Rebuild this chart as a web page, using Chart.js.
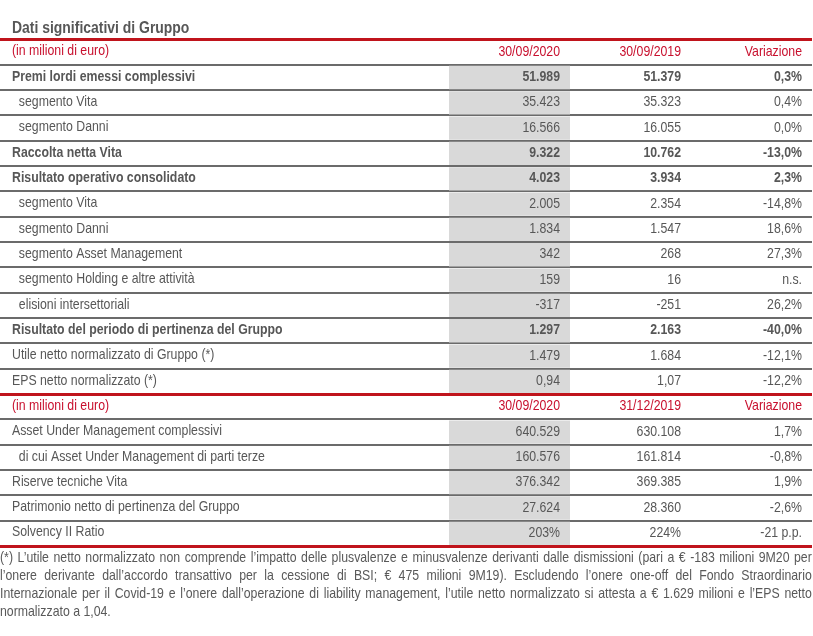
<!DOCTYPE html>
<html>
<head>
<meta charset="utf-8">
<script src="https://cdn.jsdelivr.net/npm/chart.js@4"></script>
<style>
  html, body { margin: 0; padding: 0; background: #ffffff; }
  #wrap { position: relative; width: 813px; height: 636px; overflow: hidden; }
  #note {
    position: absolute; left: 0; top: 548px; width: 990px;
    transform: scaleX(0.82); transform-origin: 0 0;
    font-family: 'Liberation Sans', Arial, sans-serif;
    font-size: 15px; line-height: 18px; color: #595959;
    text-align: justify; margin: 0;
  }
</style>
</head>
<body>
<div id="wrap">
  <canvas id="c"></canvas>
  <p id="note">(*) L’utile netto normalizzato non comprende l’impatto delle plusvalenze e minusvalenze derivanti dalle dismissioni (pari a € -183 milioni 9M20 per l’onere derivante dall’accordo transattivo per la cessione di BSI; € 475 milioni 9M19). Escludendo l’onere one-off del Fondo Straordinario Internazionale per il Covid-19 e l’onere dall’operazione di liability management, l’utile netto normalizzato si attesta a € 1.629 milioni e l’EPS netto normalizzato a 1,04.</p>
</div>
<script>
// ---------- DATA ----------
const TITLE = 'Dati significativi di Gruppo';
const UNIT_LABEL = '(in milioni di euro)';

const rowLabels = [
  UNIT_LABEL,
  'Premi lordi emessi complessivi',
  '  segmento Vita',
  '  segmento Danni',
  'Raccolta netta Vita',
  'Risultato operativo consolidato',
  '  segmento Vita',
  '  segmento Danni',
  '  segmento Asset Management',
  '  segmento Holding e altre attività',
  '  elisioni intersettoriali',
  'Risultato del periodo di pertinenza del Gruppo',
  'Utile netto normalizzato di Gruppo (*)',
  'EPS netto normalizzato (*)',
  UNIT_LABEL,
  'Asset Under Management complessivi',
  '  di cui Asset Under Management di parti terze',
  'Riserve tecniche Vita',
  'Patrimonio netto di pertinenza del Gruppo',
  'Solvency II Ratio'
];

// header rows carry the column titles
const headerRows = [0, 14];
const columnHeaders1 = ['30/09/2020', '30/09/2019', 'Variazione'];
const columnHeaders2 = ['30/09/2020', '31/12/2019', 'Variazione'];
const boldRows = [1, 4, 5, 11];

const valuesCurrent = [null, 51989, 35423, 16566, 9322, 4023, 2005, 1834, 342, 159, -317, 1297, 1479, 0.94,
                       null, 640529, 160576, 376342, 27624, 203];
const valuesPrior   = [null, 51379, 35323, 16055, 10762, 3934, 2354, 1547, 268, 16, -251, 2163, 1684, 1.07,
                       null, 630108, 161814, 369385, 28360, 224];
const variation     = [null, 0.3, 0.4, 0.0, -13.0, 2.3, -14.8, 18.6, 27.3, 'n.s.', 26.2, -40.0, -12.1, -12.2,
                       null, 1.7, -0.8, 1.9, -2.6, -21];
const valueUnits    = ['', '', '', '', '', '', '', '', '', '', '', '', '', '',
                       '', '', '', '', '', '%'];
const variationUnits= ['', '%', '%', '%', '%', '%', '%', '%', '%', '', '%', '%', '%', '%',
                       '', '%', '%', '%', '%', ' p.p.'];

// ---------- FORMATTING ----------
function fmtInt(v) {
  const s = Math.abs(Math.round(v)).toString().replace(/\B(?=(\d{3})+(?!\d))/g, '.');
  return (v < 0 ? '-' : '') + s;
}
function fmtValue(v, unit) {
  if (v === null) return '';
  if (typeof v === 'string') return v;
  if (Number.isInteger(v)) return fmtInt(v) + unit;
  return v.toFixed(2).replace('.', ',') + unit;
}
function fmtVar(v, unit) {
  if (v === null) return '';
  if (typeof v === 'string') return v;
  if (unit === '%') return v.toFixed(1).replace('.', ',') + '%';
  return fmtInt(v) + unit;
}

// ---------- STYLE ----------
const FONT = "'Liberation Sans', Arial, sans-serif";
const NARROW = 0.82;           // Arial Narrow = 82% width of Arial
const RED = '#c0141c';
const RED_TEXT = '#c8102e';
const GREY_LINE = '#6b6b6b';
const TEXT = '#575757';
const SHADE = '#d9d9d9';

const shadeData = rowLabels.map((_, i) => headerRows.includes(i) ? null : [0, 1]);

function narrowText(ctx, text, x, y) {
  ctx.save();
  ctx.translate(x, y);
  ctx.scale(NARROW, 1);
  ctx.fillText(text, 0, 0);
  ctx.restore();
}

const cellPlugin = {
  id: 'cells',
  // tick labels (z = 1 layer) are drawn after this hook: condense them horizontally
  afterDatasetsDraw(chart) {
    const ctx = chart.ctx;
    const x0 = chart.chartArea.left;
    ctx.save();
    ctx.translate(x0, 0);
    ctx.scale(NARROW, 1);
    ctx.translate(-x0, 0);
  },
  afterDraw(chart) {
    const ctx = chart.ctx;
    ctx.restore();
    const xs = chart.scales.x, ys = chart.scales.y;
    ctx.save();
    // title
    ctx.fillStyle = TEXT;
    ctx.font = 'bold 17px ' + FONT;
    ctx.textAlign = 'left';
    ctx.textBaseline = 'middle';
    narrowText(ctx, TITLE, chart.chartArea.left, chart.chartArea.top - 11.5);
    // cells
    ctx.textAlign = 'right';
    rowLabels.forEach((lab, i) => {
      const y = ys.getPixelForValue(i);
      let cells, color, weight;
      if (i === 0) { cells = columnHeaders1; color = RED_TEXT; weight = ''; }
      else if (i === 14) { cells = columnHeaders2; color = RED_TEXT; weight = ''; }
      else {
        cells = [fmtValue(valuesCurrent[i], valueUnits[i]),
                 fmtValue(valuesPrior[i], valueUnits[i]),
                 fmtVar(variation[i], variationUnits[i])];
        color = TEXT;
        weight = boldRows.includes(i) ? 'bold ' : '';
      }
      ctx.fillStyle = color;
      ctx.font = weight + '15px ' + FONT;
      cells.forEach((t, c) => {
        narrowText(ctx, t, xs.getPixelForValue(c + 1) - 10, y - 0.5);
      });
    });
    ctx.restore();
  }
};

const isRedLine = (ctx) => ctx.index === undefined || ctx.index === 0 || ctx.index === 14 || ctx.index >= rowLabels.length;

new Chart(document.getElementById('c'), {
  type: 'bar',
  data: {
    labels: rowLabels,
    datasets: [{
      data: shadeData,
      backgroundColor: SHADE,
      borderWidth: 0,
      barPercentage: 0.92,
      categoryPercentage: 1
    }]
  },
  options: {
    indexAxis: 'y',
    responsive: true,
    maintainAspectRatio: false,
    animation: false,
    layout: { padding: { top: 39.5, bottom: 90, left: 0, right: 1 } },
    plugins: { legend: { display: false }, tooltip: { enabled: false }, title: { display: false } },
    scales: {
      x: { type: 'linear', display: false, min: -3.6116, max: 3 },
      y: {
        type: 'category',
        position: 'left',
        offset: true,
        border: { display: false },
        grid: {
          offset: true,
          drawTicks: true,
          tickLength: 12,
          color: (ctx) => isRedLine(ctx) ? RED : GREY_LINE,
          lineWidth: (ctx) => isRedLine(ctx) ? 3 : 2
        },
        ticks: {
          z: 1,
          mirror: true,
          padding: 0,
          labelOffset: -1,
          autoSkip: false,
          color: (ctx) => headerRows.includes(ctx.index) ? RED_TEXT : TEXT,
          font: (ctx) => ({ family: FONT, size: 15, weight: boldRows.includes(ctx.index) ? 'bold' : 'normal' })
        }
      }
    }
  },
  plugins: [cellPlugin]
});
</script>
</body>
</html>
